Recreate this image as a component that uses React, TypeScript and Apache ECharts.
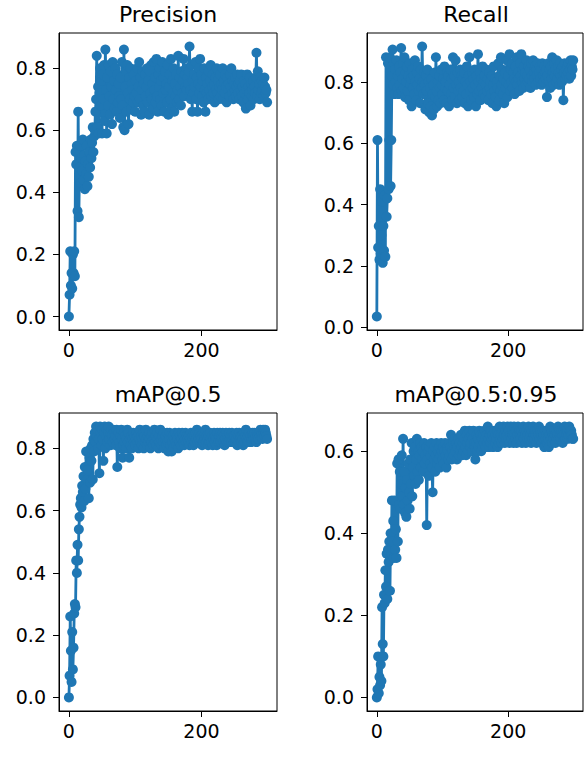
import React, { useEffect, useRef } from "react";
import * as echarts from "echarts";

const titles = ["Precision", "Recall", "mAP@0.5", "mAP@0.5:0.95"];
const xTicks = [0, 200];
const yTicksA = [0, 0.2, 0.4, 0.6, 0.8];
const yTicksB = [0, 0.2, 0.4, 0.6];

const precision = [
  0.00, 0.07, 0.21, 0.10, 0.14, 0.09, 0.20, 0.14, 0.21, 0.13,
  0.53, 0.49, 0.55, 0.34, 0.66, 0.32, 0.48, 0.55, 0.43, 0.51,
  0.47, 0.57, 0.44, 0.52, 0.41, 0.50, 0.46, 0.55, 0.42, 0.49,
  0.45, 0.53, 0.48, 0.57, 0.51, 0.56, 0.61, 0.53, 0.58, 0.60,
  0.66, 0.70, 0.84, 0.61, 0.74, 0.59, 0.72, 0.80, 0.68, 0.76,
  0.59, 0.78, 0.70, 0.81, 0.63, 0.86, 0.73, 0.59, 0.77, 0.68,
  0.81, 0.71, 0.65, 0.79, 0.74, 0.62, 0.82, 0.70, 0.76, 0.67,
  0.80, 0.73, 0.66, 0.78, 0.69, 0.75, 0.71, 0.64, 0.77, 0.70,
  0.82, 0.68, 0.61, 0.86, 0.60, 0.74, 0.79, 0.66, 0.81, 0.72,
  0.62, 0.77, 0.70, 0.80, 0.67, 0.75, 0.73, 0.69, 0.78, 0.71,
  0.66, 0.76, 0.72, 0.80, 0.69, 0.74, 0.82, 0.70, 0.77, 0.65,
  0.73, 0.79, 0.68, 0.75, 0.66, 0.78, 0.71, 0.74, 0.80, 0.69,
  0.76, 0.65, 0.79, 0.72, 0.81, 0.70, 0.75, 0.67, 0.82, 0.73,
  0.77, 0.69, 0.83, 0.71, 0.66, 0.78, 0.74, 0.80, 0.70, 0.76,
  0.68, 0.82, 0.72, 0.77, 0.66, 0.79, 0.73, 0.75, 0.69, 0.81,
  0.65, 0.74, 0.78, 0.70, 0.83, 0.67, 0.76, 0.72, 0.80, 0.66,
  0.75, 0.71, 0.78, 0.69, 0.73, 0.84, 0.70, 0.77, 0.74, 0.68,
  0.79, 0.72, 0.76, 0.83, 0.71, 0.78, 0.74, 0.80, 0.73, 0.77,
  0.75, 0.79, 0.87, 0.73, 0.70, 0.81, 0.66, 0.76, 0.72, 0.78,
  0.74, 0.82, 0.70, 0.77, 0.66, 0.75, 0.80, 0.72, 0.83, 0.74,
  0.78, 0.71, 0.76, 0.69, 0.80, 0.73, 0.66, 0.77, 0.72, 0.75,
  0.70, 0.79, 0.73, 0.76, 0.81, 0.71, 0.74, 0.78, 0.72, 0.75,
  0.69, 0.77, 0.73, 0.80, 0.72, 0.76, 0.70, 0.74, 0.78, 0.71,
  0.75, 0.73, 0.80, 0.70, 0.76, 0.72, 0.78, 0.74, 0.69, 0.77,
  0.73, 0.75, 0.71, 0.78, 0.74, 0.80, 0.72, 0.76, 0.70, 0.75,
  0.73, 0.77, 0.71, 0.74, 0.78, 0.72, 0.75, 0.70, 0.76, 0.73,
  0.78, 0.71, 0.74, 0.69, 0.76, 0.72, 0.75, 0.67, 0.73, 0.78,
  0.70, 0.74, 0.72, 0.77, 0.68, 0.75, 0.71, 0.73, 0.76, 0.70,
  0.74, 0.72, 0.77, 0.85, 0.71, 0.79, 0.73, 0.75, 0.70, 0.77,
  0.72, 0.76, 0.73, 0.75, 0.71, 0.77, 0.74, 0.72, 0.73, 0.69,
];

const recall = [
  0.035, 0.61, 0.26, 0.33, 0.22, 0.45, 0.24, 0.30, 0.41, 0.21,
  0.33, 0.25, 0.43, 0.23, 0.88, 0.36, 0.42, 0.86, 0.45, 0.61,
  0.88, 0.46, 0.61, 0.82, 0.905, 0.79, 0.86, 0.76, 0.84, 0.80,
  0.87, 0.78, 0.82, 0.76, 0.85, 0.79, 0.83, 0.91, 0.77, 0.81,
  0.86, 0.78, 0.88, 0.75, 0.83, 0.80, 0.85, 0.77, 0.82, 0.74,
  0.86, 0.79, 0.81, 0.72, 0.84, 0.78, 0.82, 0.76, 0.87, 0.80,
  0.74, 0.83, 0.79, 0.85, 0.77, 0.81, 0.73, 0.84, 0.78, 0.915,
  0.80, 0.76, 0.83, 0.79, 0.71, 0.82, 0.77, 0.84, 0.73, 0.80,
  0.70, 0.78, 0.72, 0.81, 0.69, 0.76, 0.79, 0.71, 0.83, 0.75,
  0.88, 0.77, 0.72, 0.80, 0.74, 0.82, 0.78, 0.73, 0.84, 0.79,
  0.76, 0.81, 0.74, 0.85, 0.78, 0.80, 0.73, 0.83, 0.77, 0.82,
  0.72, 0.79, 0.84, 0.76, 0.81, 0.74, 0.88, 0.78, 0.82, 0.75,
  0.87, 0.79, 0.73, 0.83, 0.77, 0.80, 0.74, 0.84, 0.78, 0.82,
  0.75, 0.81, 0.77, 0.83, 0.73, 0.80, 0.76, 0.85, 0.79, 0.72,
  0.82, 0.88, 0.77, 0.80, 0.74, 0.83, 0.78, 0.81, 0.75, 0.84,
  0.79, 0.72, 0.82, 0.76, 0.89, 0.80, 0.77, 0.83, 0.74, 0.81,
  0.78, 0.85, 0.76, 0.80, 0.82, 0.75, 0.79, 0.84, 0.77, 0.81,
  0.74, 0.83, 0.78, 0.80, 0.76, 0.82, 0.73, 0.79, 0.85, 0.77,
  0.81, 0.75, 0.72, 0.80, 0.78, 0.86, 0.74, 0.82, 0.77, 0.88,
  0.79, 0.84, 0.76, 0.81, 0.73, 0.83, 0.78, 0.80, 0.87, 0.75,
  0.82, 0.79, 0.89, 0.77, 0.84, 0.80, 0.86, 0.78, 0.83, 0.81,
  0.76, 0.85, 0.80, 0.88, 0.79, 0.83, 0.81, 0.77, 0.86, 0.82,
  0.89, 0.80, 0.84, 0.78, 0.85, 0.81, 0.83, 0.79, 0.87, 0.82,
  0.80, 0.85, 0.81, 0.84, 0.78, 0.86, 0.82, 0.80, 0.87, 0.83,
  0.81, 0.85, 0.79, 0.84, 0.82, 0.86, 0.80, 0.83, 0.85, 0.81,
  0.84, 0.79, 0.86, 0.82, 0.80, 0.85, 0.83, 0.81, 0.84, 0.75,
  0.82, 0.86, 0.80, 0.84, 0.78, 0.85, 0.81, 0.88, 0.83, 0.79,
  0.86, 0.82, 0.84, 0.80, 0.87, 0.81, 0.85, 0.83, 0.79, 0.86,
  0.82, 0.84, 0.80, 0.85, 0.74, 0.83, 0.86, 0.81, 0.84, 0.82,
  0.85, 0.83, 0.86, 0.81, 0.84, 0.87, 0.82, 0.85, 0.84, 0.87,
];

const map50 = [
  0.00, 0.07, 0.26, 0.15, 0.05, 0.21, 0.09, 0.16, 0.27, 0.30,
  0.29, 0.44, 0.40, 0.49, 0.44, 0.54, 0.58, 0.62, 0.64, 0.61,
  0.68, 0.66, 0.71, 0.63, 0.74, 0.67, 0.79, 0.70, 0.73, 0.79,
  0.64, 0.77, 0.69, 0.80, 0.76, 0.81, 0.70, 0.83, 0.79, 0.85,
  0.82, 0.87, 0.84, 0.86, 0.80, 0.83, 0.72, 0.87, 0.85, 0.81,
  0.86, 0.83, 0.76, 0.85, 0.87, 0.80, 0.84, 0.86, 0.82, 0.85,
  0.87, 0.83, 0.85, 0.81, 0.86, 0.84, 0.82, 0.86, 0.85, 0.83,
  0.84, 0.81, 0.86, 0.74, 0.83, 0.85, 0.82, 0.80, 0.84, 0.86,
  0.83, 0.77, 0.81, 0.85, 0.82, 0.84, 0.80, 0.83, 0.86, 0.82,
  0.85, 0.77, 0.83, 0.81, 0.84, 0.80, 0.83, 0.85, 0.82, 0.84,
  0.81, 0.83, 0.85, 0.82, 0.84, 0.80, 0.83, 0.86, 0.82, 0.84,
  0.81, 0.83, 0.85, 0.80, 0.84, 0.82, 0.86, 0.83, 0.81, 0.84,
  0.82, 0.85, 0.83, 0.80, 0.84, 0.82, 0.85, 0.81, 0.83, 0.86,
  0.82, 0.84, 0.81, 0.85, 0.83, 0.80, 0.84, 0.82, 0.86, 0.83,
  0.81, 0.84, 0.82, 0.85, 0.80, 0.83, 0.84, 0.81, 0.85, 0.82,
  0.79, 0.83, 0.85, 0.81, 0.84, 0.79, 0.82, 0.84, 0.80, 0.83,
  0.85, 0.82, 0.81, 0.84, 0.83, 0.80, 0.85, 0.82, 0.84, 0.81,
  0.83, 0.85, 0.82, 0.84, 0.81, 0.83, 0.85, 0.82, 0.84, 0.83,
  0.82, 0.84, 0.81, 0.83, 0.85, 0.82, 0.84, 0.83, 0.81, 0.84,
  0.82, 0.85, 0.83, 0.86, 0.82, 0.84, 0.83, 0.85, 0.82, 0.84,
  0.83, 0.81, 0.85, 0.82, 0.84, 0.83, 0.86, 0.82, 0.84, 0.83,
  0.81, 0.84, 0.82, 0.85, 0.83, 0.82, 0.84, 0.81, 0.83, 0.85,
  0.82, 0.84, 0.83, 0.81, 0.85, 0.83, 0.82, 0.84, 0.85, 0.82,
  0.84, 0.83, 0.85, 0.82, 0.84, 0.81, 0.83, 0.85, 0.82, 0.84,
  0.83, 0.82, 0.85, 0.83, 0.84, 0.82, 0.85, 0.83, 0.84, 0.82,
  0.84, 0.82, 0.83, 0.85, 0.81, 0.84, 0.82, 0.85, 0.83, 0.84,
  0.82, 0.84, 0.83, 0.81, 0.85, 0.82, 0.84, 0.86, 0.83, 0.82,
  0.84, 0.82, 0.85, 0.83, 0.84, 0.82, 0.83, 0.85, 0.84, 0.83,
  0.85, 0.83, 0.84, 0.82, 0.85, 0.84, 0.83, 0.85, 0.84, 0.86,
  0.84, 0.85, 0.83, 0.86, 0.85, 0.84, 0.86, 0.85, 0.84, 0.83,
];

const map5095 = [
  0.00, 0.02, 0.10, 0.01, 0.05, 0.03, 0.08, 0.04, 0.22, 0.13,
  0.10, 0.25, 0.23, 0.31, 0.27, 0.35, 0.24, 0.36, 0.33, 0.38,
  0.26, 0.40, 0.35, 0.48, 0.38, 0.43, 0.34, 0.48, 0.36, 0.41,
  0.34, 0.57, 0.38, 0.58, 0.47, 0.55, 0.46, 0.52, 0.59, 0.49,
  0.63, 0.47, 0.55, 0.45, 0.51, 0.44, 0.53, 0.48, 0.57, 0.50,
  0.46, 0.58, 0.52, 0.62, 0.49, 0.56, 0.60, 0.54, 0.61, 0.52,
  0.58, 0.63, 0.55, 0.60, 0.53, 0.59, 0.62, 0.56, 0.61, 0.58,
  0.60, 0.55, 0.62, 0.57, 0.59, 0.61, 0.42, 0.58, 0.60, 0.54,
  0.61, 0.57, 0.59, 0.62, 0.56, 0.50, 0.60, 0.58, 0.61, 0.55,
  0.59, 0.62, 0.57, 0.60, 0.58, 0.61, 0.56, 0.59, 0.62, 0.60,
  0.58, 0.61, 0.57, 0.60, 0.62, 0.59, 0.56, 0.61, 0.60, 0.58,
  0.62, 0.59, 0.61, 0.64, 0.58, 0.60, 0.62, 0.59, 0.61, 0.63,
  0.60, 0.62, 0.58, 0.61, 0.63, 0.59, 0.62, 0.60, 0.64, 0.61,
  0.59, 0.62, 0.60, 0.63, 0.65, 0.61, 0.59, 0.64, 0.62, 0.60,
  0.63, 0.65, 0.61, 0.62, 0.64, 0.60, 0.63, 0.65, 0.62, 0.61,
  0.58, 0.62, 0.64, 0.60, 0.63, 0.61, 0.65, 0.62, 0.64, 0.60,
  0.63, 0.61, 0.64, 0.62, 0.65, 0.63, 0.61, 0.64, 0.62, 0.66,
  0.63, 0.61, 0.64, 0.62, 0.65, 0.63, 0.64, 0.61, 0.63, 0.65,
  0.62, 0.64, 0.63, 0.65, 0.61, 0.64, 0.62, 0.66, 0.63, 0.64,
  0.62, 0.65, 0.63, 0.66, 0.64, 0.62, 0.65, 0.63, 0.64, 0.66,
  0.63, 0.65, 0.62, 0.64, 0.66, 0.63, 0.65, 0.64, 0.62, 0.66,
  0.64, 0.63, 0.65, 0.62, 0.64, 0.66, 0.63, 0.65, 0.64, 0.63,
  0.65, 0.62, 0.64, 0.66, 0.63, 0.65, 0.64, 0.62, 0.65, 0.63,
  0.64, 0.66, 0.63, 0.65, 0.64, 0.62, 0.65, 0.63, 0.66, 0.64,
  0.63, 0.65, 0.64, 0.62, 0.65, 0.63, 0.64, 0.66, 0.63, 0.65,
  0.64, 0.62, 0.65, 0.63, 0.64, 0.61, 0.65, 0.63, 0.64, 0.62,
  0.65, 0.63, 0.61, 0.64, 0.66, 0.63, 0.65, 0.62, 0.64, 0.63,
  0.65, 0.64, 0.62, 0.65, 0.63, 0.64, 0.66, 0.63, 0.65, 0.64,
  0.63, 0.65, 0.64, 0.62, 0.65, 0.64, 0.66, 0.63, 0.65, 0.64,
  0.65, 0.63, 0.64, 0.66, 0.65, 0.64, 0.65, 0.64, 0.63, 0.63,
];

const seriesValues = [precision, recall, map50, map5095];
const yTickSets = [yTicksA, yTicksA, yTicksA, yTicksB];

const FONT = "'DejaVu Sans', sans-serif";
const BLUE = "#1f77b4";

function padRange(vals: number[]) {
  let lo = Infinity;
  let hi = -Infinity;
  for (const v of vals) {
    if (v < lo) lo = v;
    if (v > hi) hi = v;
  }
  const m = (hi - lo) * 0.05;
  return [lo - m, hi + m];
}

export default function App() {
  const ref = useRef<HTMLDivElement>(null);
  useEffect(() => {
    if (!ref.current) return;
    const chart = echarts.init(ref.current, null, { renderer: "svg" });
    const grids = [
      { left: 59, top: 33, width: 218, height: 297 },
      { left: 367, top: 33, width: 216, height: 297 },
      { left: 59, top: 413, width: 218, height: 298 },
      { left: 367, top: 413, width: 216, height: 298 },
    ];
    const titleY = [3, 383];
    const xAxes: any[] = [];
    const yAxes: any[] = [];
    const series: any[] = [];
    const graphics: any[] = [];
    seriesValues.forEach((vals, i) => {
      const epochs = vals.map((_, k) => k);
      const [xmin, xmax] = padRange(epochs);
      const [ymin, ymax] = padRange(vals);
      xAxes.push({
        type: "value",
        gridIndex: i,
        min: xmin,
        max: xmax,
        splitLine: { show: false },
        axisLine: { show: true, onZero: false, lineStyle: { color: "#000", width: 1 } },
        axisTick: { show: true, inside: false, length: 6, customValues: xTicks, lineStyle: { color: "#000", width: 1 } },
        axisLabel: {
          customValues: xTicks,
          color: "#000",
          fontFamily: FONT,
          fontSize: 19,
          margin: 10,
        },
      });
      yAxes.push({
        type: "value",
        gridIndex: i,
        min: ymin,
        max: ymax,
        splitLine: { show: false },
        axisLine: { show: true, onZero: false, lineStyle: { color: "#000", width: 1 } },
        axisTick: { show: true, inside: false, length: 6, customValues: yTickSets[i], lineStyle: { color: "#000", width: 1 } },
        axisLabel: {
          customValues: yTickSets[i],
          formatter: (v: number) => v.toFixed(1),
          color: "#000",
          fontFamily: FONT,
          fontSize: 19,
          margin: 13,
        },
      });
      series.push({
        type: "line",
        name: titles[i],
        xAxisIndex: i,
        yAxisIndex: i,
        data: vals.map((v, k) => [epochs[k], v]),
        symbol: "circle",
        symbolSize: 10,
        showAllSymbol: true,
        lineStyle: { color: BLUE, width: 2.8 },
        itemStyle: { color: BLUE },
        clip: false,
      });
      const g = grids[i];
      graphics.push({
        type: "text",
        x: g.left + g.width / 2 + (i % 2 === 1 ? 1 : 0),
        y: titleY[Math.floor(i / 2)],
        style: {
          text: titles[i],
          font: `22px ${FONT}`,
          fill: "#000",
          textAlign: "center",
          textVerticalAlign: "top",
        },
      });
    });
    chart.setOption({
      animation: false,
      backgroundColor: "#fff",
      grid: grids.map((g) => ({ ...g, show: true, borderColor: "#000", borderWidth: 1, backgroundColor: "transparent" })),
      xAxis: xAxes,
      yAxis: yAxes,
      series,
      graphic: graphics,
    });
    return () => chart.dispose();
  }, []);
  return (
    <div
      ref={ref}
      style={{ position: "fixed", left: 0, top: 0, width: 584, height: 761, background: "#fff" }}
    />
  );
}
